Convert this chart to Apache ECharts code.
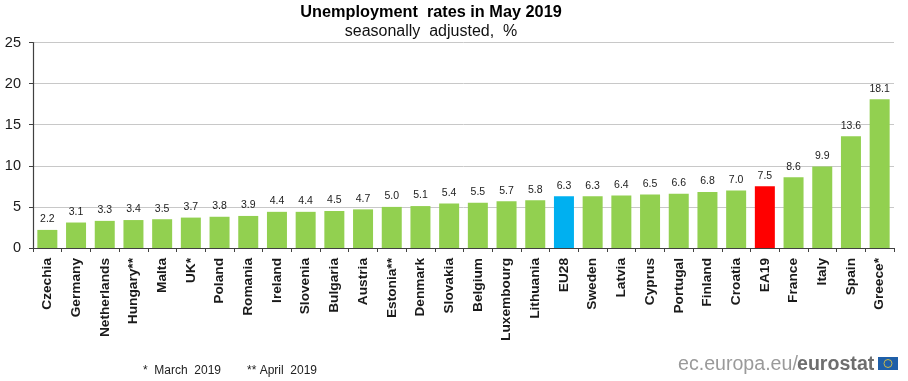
<!DOCTYPE html>
<html><head><meta charset="utf-8">
<style>html,body{margin:0;padding:0;background:#fff}#c{width:908px;height:381px}</style>
<script src="https://cdn.jsdelivr.net/npm/echarts@6/dist/echarts.min.js"></script></head>
<body><div id="c"></div>
<script>
const categories=["Czechia","Germany","Netherlands","Hungary**","Malta","UK*","Poland","Romania","Ireland","Slovenia","Bulgaria","Austria","Estonia**","Denmark","Slovakia","Belgium","Luxembourg","Lithuania","EU28","Sweden","Latvia","Cyprus","Portugal","Finland","Croatia","EA19","France","Italy","Spain","Greece*"];
const rates=[2.2,3.1,3.3,3.4,3.5,3.7,3.8,3.9,4.4,4.4,4.5,4.7,5.0,5.1,5.4,5.5,5.7,5.8,6.3,6.3,6.4,6.5,6.6,6.8,7.0,7.5,8.6,9.9,13.6,18.1];
const highlight={EU28:"#00B0F0",EA19:"#FF0000"};
const barColor="#92D050";
const font="Liberation Sans";
const chart=echarts.init(document.getElementById('c'),null,{renderer:'canvas'});
chart.setOption({
 animation:false,
 textStyle:{fontFamily:font},
 title:[
  {text:"Unemployment  rates in May 2019",left:426,top:0,textAlign:'center',textStyle:{fontFamily:font,fontSize:16.3,fontWeight:'bold',color:'#000'}},
  {text:"seasonally  adjusted,  %",left:426,top:19,textAlign:'center',textStyle:{fontFamily:font,fontSize:16,fontWeight:'normal',color:'#111'}}
 ],
 grid:{left:33,right:14,top:42.5,bottom:133,containLabel:false},
 xAxis:{type:'category',data:categories,
  axisLine:{lineStyle:{color:'#404040',width:1.2}},
  axisTick:{show:true,alignWithLabel:false,length:4,lineStyle:{color:'#404040'}},
  axisLabel:{interval:0,rotate:90,margin:10,fontSize:13.7,fontWeight:'bold',color:'#1a1a1a',fontFamily:font}},
 yAxis:{type:'value',min:0,max:25,interval:5,
  axisLine:{show:true,lineStyle:{color:'#404040',width:1.2}},
  axisTick:{show:true,length:4,lineStyle:{color:'#404040'}},
  axisLabel:{fontSize:14.5,color:'#1a1a1a',margin:12,fontFamily:font},
  splitLine:{lineStyle:{color:'#c8c8c8',width:1}}},
 series:[{type:'bar',barWidth:20,
  data:rates.map((v,i)=>({value:v,itemStyle:{color:highlight[categories[i]]||barColor}})),
  label:{show:true,position:'top',distance:5,fontSize:10.5,color:'#222',fontFamily:font,formatter:p=>p.value.toFixed(1)}}],
 graphic:[
  {type:'text',left:143,top:365,style:{text:"*  March  2019",fontSize:12,fill:'#222',fontFamily:font}},
  {type:'text',left:247,top:365,style:{text:"** April  2019",fontSize:12,fill:'#222',fontFamily:font}},
  {type:'text',left:678,top:355,style:{text:"ec.europa.eu/",fontSize:19.6,fill:'#9a9a9a',fontFamily:font}},
  {type:'text',left:797,top:355,style:{text:"eurostat",fontSize:19.6,fontWeight:'bold',fill:'#6e6e6e',fontFamily:font}},
  {type:'rect',shape:{x:878,y:357,width:20,height:13},style:{fill:'#1f5fa8'}},
  {type:'circle',shape:{cx:888,cy:363.5,r:4},style:{fill:'none',stroke:'#c9b84a',lineWidth:1}}
 ]
});
</script></body></html>
